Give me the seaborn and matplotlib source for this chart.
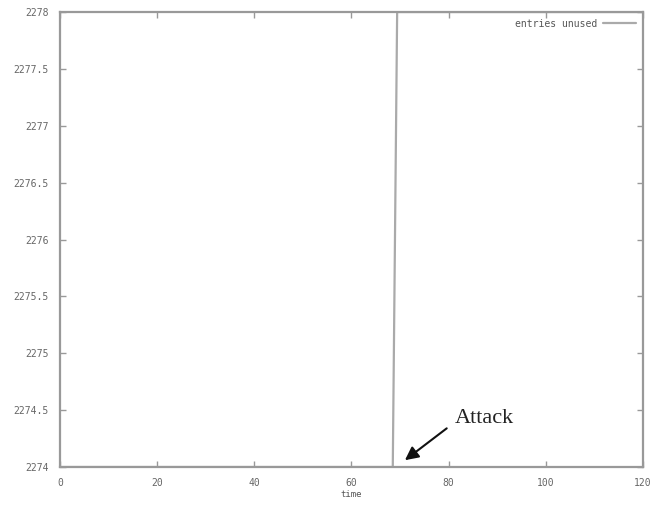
import matplotlib
matplotlib.use("Agg")
import matplotlib.pyplot as plt
import seaborn as sns
import pandas as pd

time = [0, 68.5, 69.4, 120]
entries_unused = [2274, 2274, 2278, 2278]
x_ticks = [0, 20, 40, 60, 80, 100, 120]
y_ticks = [2274, 2274.5, 2275, 2275.5, 2276, 2276.5, 2277, 2277.5, 2278]
y_labels = ["2274", "2274.5", "2275", "2275.5", "2276", "2276.5", "2277", "2277.5", "2278"]

sns.set_style("white")
plt.rcParams['font.family'] = ['DejaVu Sans Mono']

df = pd.DataFrame({"time": time, "entries unused": entries_unused})

fig = plt.figure(figsize=(6.6, 5.05), dpi=100)
ax = fig.add_axes([0.0909, 0.0752, 0.8833, 0.9010])

sns.lineplot(data=df, x="time", y="entries unused", ax=ax, color="#aaaaaa",
             linewidth=1.6, label="entries unused")

ax.set_xlim(0, 120)
ax.set_ylim(2274, 2278)
ax.set_xticks(x_ticks)
ax.set_xticklabels([str(v) for v in x_ticks])
ax.set_yticks(y_ticks)
ax.set_yticklabels(y_labels)
ax.set_xlabel("time", fontsize=6.5, color="#555555", labelpad=1)
ax.set_ylabel("")

for s in ax.spines.values():
    s.set_color("#999999")
    s.set_linewidth(1.6)

ax.tick_params(axis="both", which="both", direction="in", length=4, width=1,
               color="#999999", labelsize=7, labelcolor="#666666",
               top=True, right=True, bottom=True, left=True)
ax.tick_params(axis="x", pad=8)
ax.tick_params(axis="y", pad=8)

leg = ax.legend(loc="upper right", frameon=False, fontsize=7,
                handlelength=3.4, borderaxespad=0.3, handletextpad=0.6,
                markerfirst=False)
for t in leg.get_texts():
    t.set_color("#555555")

ax.annotate("", xy=(71.0, 2274.06), xytext=(79.6, 2274.34), textcoords="data",
            arrowprops=dict(arrowstyle="-|>", color="#111111", lw=1.5,
                            mutation_scale=20, shrinkA=0, shrinkB=0))
ax.text(81.3, 2274.43, "Attack", fontsize=16, family="Liberation Serif",
        color="#222222", va="center", ha="left")

fig.savefig("out.png", dpi=100)
